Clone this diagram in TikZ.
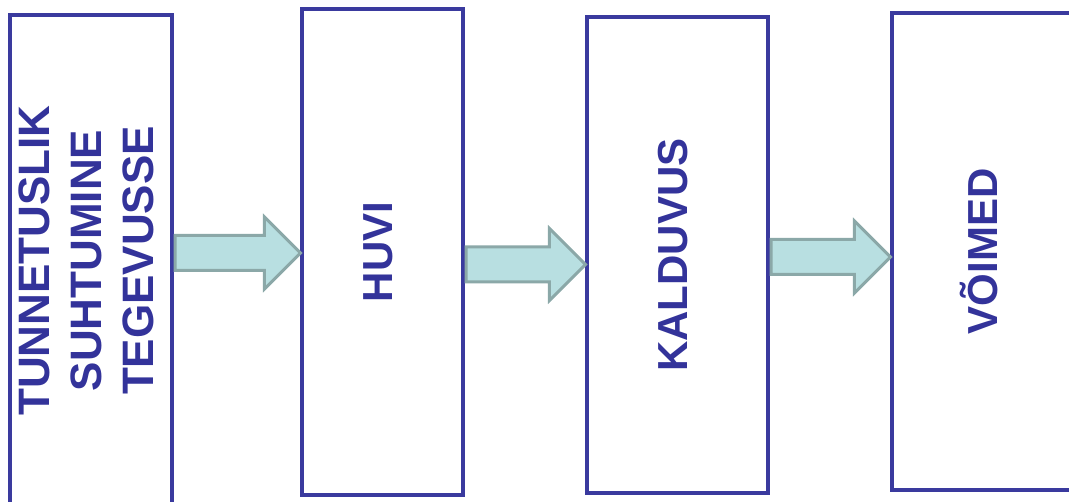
\documentclass[tikz,border=0pt]{standalone}
\usepackage{fontspec}
\setmainfont{Liberation Sans}
\usetikzlibrary{positioning,calc}

\definecolor{boxblue}{HTML}{3A3A9E}
\definecolor{textblue}{HTML}{33339A}
\definecolor{arrowfill}{HTML}{B8DFE1}
\definecolor{arrowline}{HTML}{8BA8A8}

\tikzset{
  stage/.style={rectangle,draw=boxblue,line width=3.2pt,inner sep=0pt,
    text=textblue,font=\fontsize{42}{52}\selectfont\bfseries},
  blockarrow/.style={fill=arrowfill,draw=arrowline,line width=3pt,line join=miter}
}

\newcommand{\vtext}[1]{\rotatebox{90}{\begin{tabular}{@{}c@{}}#1\end{tabular}}}

\begin{document}
\begin{tikzpicture}[x=1pt,y=-1pt]
\useasboundingbox (0,0) rectangle (1069,502);
\clip (0,0) rectangle (1069,502);

% draw stages
\node[stage,minimum width=162pt,minimum height=491pt,font=\fontsize{44}{52}\selectfont\bfseries] (tunne) at (91,260.5) {\vtext{TUNNETUSLIK\\SUHTUMINE\\TEGEVUSSE}};
\node[stage,minimum width=161pt,minimum height=486pt] (huvi) at (382.5,252) {\vtext{HUVI}};
\node[stage,minimum width=181pt,minimum height=476pt] (kald) at (677.5,255) {\vtext{KALDUVUS}};
\node[stage,minimum width=189pt,minimum height=477pt] (voime) at (986.5,251.5) {\vtext{VÕIMED}};

% draw block arrows between stages
\foreach \a/\b/\y in {tunne/huvi/253, huvi/kald/264.5, kald/voime/257}
{
  \draw[blockarrow]
    ($(\a.east |- 0,\y)+(1.5,-17.5)$) -- ($(\b.west |- 0,\y)+(-36,-17.5)$)
    -- ($(\b.west |- 0,\y)+(-36,-36)$) -- ($(\b.west |- 0,\y)+(0,0)$)
    -- ($(\b.west |- 0,\y)+(-36,36)$) -- ($(\b.west |- 0,\y)+(-36,17.5)$)
    -- ($(\a.east |- 0,\y)+(1.5,17.5)$) -- cycle;
}

\end{tikzpicture}
\end{document}
